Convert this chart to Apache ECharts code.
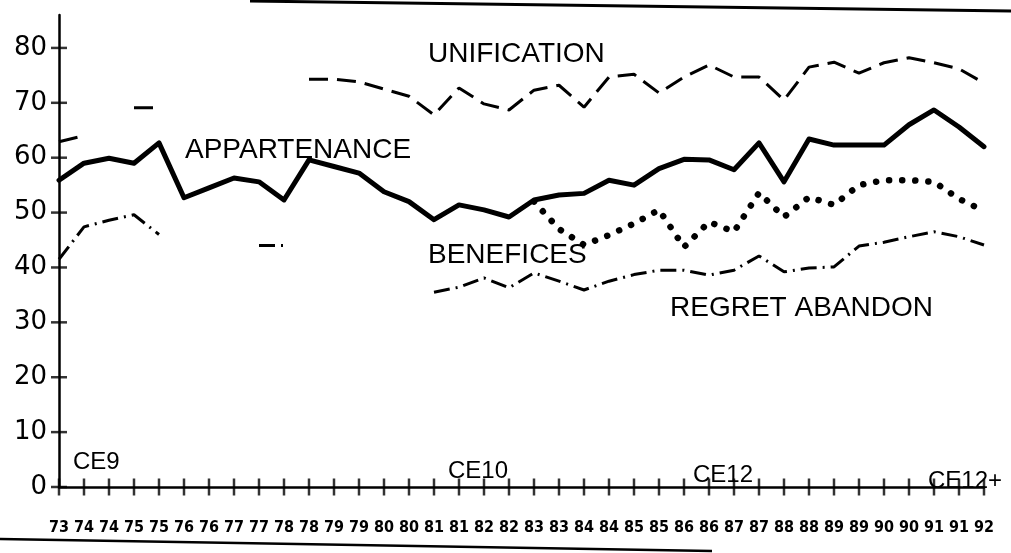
<!DOCTYPE html>
<html><head><meta charset="utf-8">
<script src="https://cdn.jsdelivr.net/npm/echarts@6/dist/echarts.min.js"></script>
<style>html,body{margin:0;padding:0;background:#fff}#chart{width:1011px;height:553px}</style>
</head><body><div id="chart"></div>
<script>
// ---- data ----
const years = ['73','74','74','75','75','76','76','77','77','78','78','79','79','80','80','81','81','82','82','83','83','84','84','85','85','86','86','87','87','88','88','89','89','90','90','91','91','92'];
const yTicks = [0,10,20,30,40,50,60,70,80];
const appartenance = [55.9,59.0,59.9,59.0,62.7,52.7,54.5,56.3,55.6,52.3,59.6,58.4,57.2,53.8,52.0,48.7,51.4,50.5,49.2,52.3,53.2,53.5,55.9,55.0,58.0,59.7,59.6,57.8,62.7,55.6,63.4,62.3,62.3,62.3,66.0,68.7,65.6,62.0];
const unification = [62.9,64.0,null,69.1,69.1,null,null,null,null,null,74.3,74.3,73.8,72.5,71.2,67.8,72.7,69.8,68.7,72.3,73.2,69.2,74.7,75.2,71.8,74.7,76.9,74.7,74.7,70.5,76.5,77.4,75.4,77.3,78.2,77.3,76.2,73.6];
const benefices = [null,null,null,null,null,null,null,null,null,null,null,null,null,null,null,null,null,null,null,52.0,47.0,44.1,45.9,48.0,50.5,43.7,48.3,46.5,53.6,49.2,52.8,51.4,55.0,55.9,55.9,55.6,52.5,50.3];
const regretAbandon = [41.5,47.4,48.6,49.6,46.0,null,null,null,44.0,44.0,null,null,null,null,null,35.5,36.4,38.1,36.3,39.0,37.5,35.9,37.5,38.7,39.5,39.5,38.6,39.5,42.1,39.2,39.9,40.1,43.9,44.6,45.6,46.5,45.6,44.1];
const seriesNames = ['APPARTENANCE','UNIFICATION','BENEFICES','REGRET ABANDON'];
const eraLabels = ['CE9','CE10','CE12','CE12+'];

// ---- chart ----
const chart = echarts.init(document.getElementById('chart'), null, {renderer:'canvas'});
const annFont = '28px "Liberation Sans", Arial, sans-serif';
const eraFont = '24px "Liberation Sans", Arial, sans-serif';
function txt(t, x, y, font){
  return {type:'text', x:x, y:y, silent:true, style:{text:t, font:font, fill:'#000', textAlign:'left', textVerticalAlign:'middle'}};
}
// "+" shaped tick crosses, placed through the axes' own scales
const xCross = years.map((_, i) => [i, 0]);
const yCross = yTicks.map(v => [0, v]);
const option = {
  animation:false,
  backgroundColor:'#fff',
  grid:{left:59, right:27, top:15, bottom:66, containLabel:false},
  xAxis:{
    type:'category', data:years, boundaryGap:false,
    axisLine:{show:true, onZero:false, lineStyle:{color:'#000', width:2.5}},
    axisTick:{show:false},
    axisLabel:{show:true, interval:0, margin:33, color:'#000', fontWeight:'bold',
      fontFamily:'"Liberation Sans Narrow","DejaVu Sans Condensed","Liberation Sans",sans-serif', fontSize:16},
    splitLine:{show:false}
  },
  yAxis:{
    type:'value', min:0, max:86,
    axisLine:{show:true, lineStyle:{color:'#000', width:2.5}},
    axisTick:{show:false},
    axisLabel:{show:true, customValues:yTicks, margin:12, color:'#000',
      fontFamily:'"DejaVu Sans",sans-serif', fontSize:26},
    splitLine:{show:false}
  },
  series:[
    {name:seriesNames[0], type:'line', data:appartenance, showSymbol:false, symbol:'none',
      lineStyle:{color:'#000', width:5, join:'round', cap:'round'}},
    {name:seriesNames[1], type:'line', data:unification, showSymbol:false, symbol:'none',
      lineStyle:{color:'#000', width:3, type:[19,9]}},
    {name:seriesNames[2], type:'line', data:benefices, showSymbol:false, symbol:'none',
      lineStyle:{color:'#000', width:6.5, type:[0.1,13], cap:'round'}},
    {name:seriesNames[3], type:'line', data:regretAbandon, showSymbol:false, symbol:'none',
      lineStyle:{color:'#000', width:3, type:[16,6,2,6]}},
    {name:'xticks', type:'scatter', data:xCross, symbol:'rect', symbolSize:[2.5,17], clip:false, silent:true,
      itemStyle:{color:'#000'}, z:5},
    {name:'yticks', type:'scatter', data:yCross, symbol:'rect', symbolSize:[16,2.5], clip:false, silent:true,
      itemStyle:{color:'#000'}, z:5}
  ],
  graphic:[
    txt(seriesNames[1], 428, 54, annFont),
    txt(seriesNames[0], 185, 150, annFont),
    txt(seriesNames[2], 428, 255, annFont),
    txt(seriesNames[3], 670, 308, annFont),
    txt(eraLabels[0], 73, 462, eraFont),
    txt(eraLabels[1], 448, 471, eraFont),
    txt(eraLabels[2], 693, 475, eraFont),
    txt(eraLabels[3], 928, 481, eraFont),
    {type:'line', silent:true, shape:{x1:250, y1:1, x2:1011, y2:11}, style:{stroke:'#000', lineWidth:3}},
    {type:'line', silent:true, shape:{x1:0, y1:539, x2:712, y2:551}, style:{stroke:'#000', lineWidth:2.5}}
  ]
};
chart.setOption(option);
</script>
</body></html>
